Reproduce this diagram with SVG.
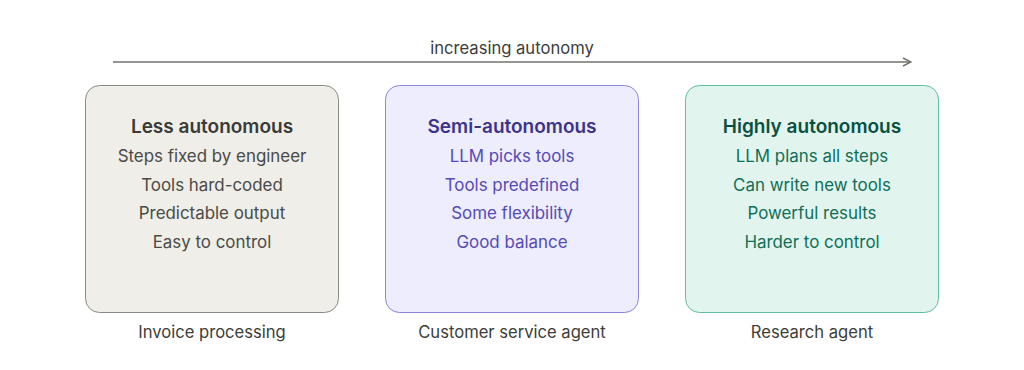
<svg xmlns="http://www.w3.org/2000/svg" width="1024" height="370" viewBox="0 0 1024 370">
<style>
text{font-family:Inter,"Noto Sans","Liberation Sans",sans-serif;text-anchor:middle}
.t{font-size:19px;font-weight:600}
.b{font-size:16.9px}
.cap{font-size:16.6px;fill:#3d3d3a}
.box{stroke-width:1}
</style>
<defs>
<marker id="arr" viewBox="0 0 10 10" refX="9" refY="5" markerWidth="10" markerHeight="10" markerUnits="userSpaceOnUse" orient="auto">
<path d="M1,1 L9,5 L1,9" fill="none" stroke="#73726c" stroke-width="1.5"/>
</marker>
</defs>
<rect width="1024" height="370" fill="#ffffff"/>
<g id="connectors">
<line x1="113" y1="62" x2="911" y2="62" stroke="#73726c" stroke-width="1.5" marker-end="url(#arr)"/>
<text x="512" y="54" style="font-size:16.6px;fill:#3d3d3a">increasing autonomy</text>
</g>
<g id="less">
<rect class="box" x="85.5" y="85.5" width="253" height="227" rx="14" fill="#efeee9" stroke="#8a8983"/>
<text class="t" x="212" y="132.5" fill="#3a3a37">Less autonomous</text>
<text class="b" x="212" y="162" fill="#4a4a46">Steps fixed by engineer</text>
<text class="b" x="212" y="190.5" fill="#4a4a46">Tools hard-coded</text>
<text class="b" x="212" y="219" fill="#4a4a46">Predictable output</text>
<text class="b" x="212" y="247.5" fill="#4a4a46">Easy to control</text>
<text class="cap" x="212" y="338">Invoice processing</text>
</g>
<g id="semi">
<rect class="box" x="385.5" y="85.5" width="253" height="227" rx="14" fill="#eeedfe" stroke="#8b84de"/>
<text class="t" x="512" y="132.5" fill="#3c3489">Semi-autonomous</text>
<text class="b" x="512" y="162" fill="#534ab7">LLM picks tools</text>
<text class="b" x="512" y="190.5" fill="#534ab7">Tools predefined</text>
<text class="b" x="512" y="219" fill="#534ab7">Some flexibility</text>
<text class="b" x="512" y="247.5" fill="#534ab7">Good balance</text>
<text class="cap" x="512" y="338">Customer service agent</text>
</g>
<g id="high">
<rect class="box" x="685.5" y="85.5" width="253" height="227" rx="14" fill="#e1f5ee" stroke="#5dbf9c"/>
<text class="t" x="812" y="132.5" fill="#085041">Highly autonomous</text>
<text class="b" x="812" y="162" fill="#0f6e56">LLM plans all steps</text>
<text class="b" x="812" y="190.5" fill="#0f6e56">Can write new tools</text>
<text class="b" x="812" y="219" fill="#0f6e56">Powerful results</text>
<text class="b" x="812" y="247.5" fill="#0f6e56">Harder to control</text>
<text class="cap" x="812" y="338">Research agent</text>
</g>
</svg>
